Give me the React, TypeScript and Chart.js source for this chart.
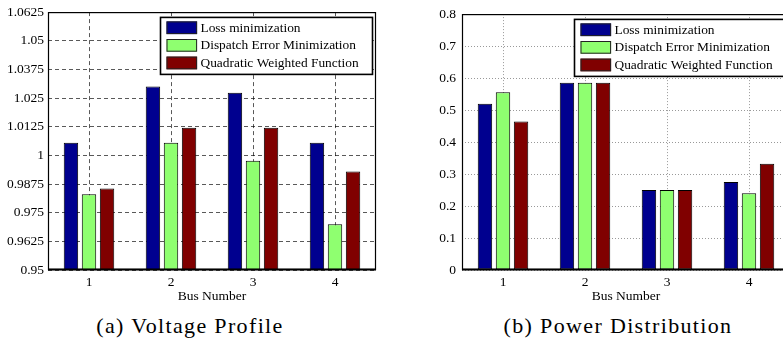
import React, { useEffect, useRef } from 'react';
import { Chart, registerables } from 'chart.js';

Chart.register(...registerables);

// ---------- data ----------
const busNumbers = ['1', '2', '3', '4'];
const seriesNames = ['Loss minimization', 'Dispatch Error Minimization', 'Quadratic Weighted Function'];
const seriesColors = ['#00008f', '#8fff70', '#800000'];

const voltageLoss = [1.0055, 1.030, 1.0273, 1.0055];
const voltageDispatch = [0.983, 1.0055, 0.9977, 0.970];
const voltageQuadratic = [0.9855, 1.012, 1.012, 0.993];
const voltageTicks = [0.95, 0.9625, 0.975, 0.9875, 1, 1.0125, 1.025, 1.0375, 1.05, 1.0625];

const powerLoss = [0.52, 0.585, 0.25, 0.275];
const powerDispatch = [0.556, 0.585, 0.25, 0.24];
const powerQuadratic = [0.464, 0.585, 0.25, 0.332];
const powerTicks = [0, 0.1, 0.2, 0.3, 0.4, 0.5, 0.6, 0.7, 0.8];

const xTitle = 'Bus Number';
const captionA = '(a) Voltage Profile';
const captionB = '(b) Power Distribution';

const FONT = '"Liberation Serif", "Times New Roman", Tinos, "DejaVu Serif"';

const framePlusLegend = {
  id: 'framePlusLegend',
  afterDraw(chart: any) {
    const { ctx, chartArea } = chart;
    const { left, top, right, bottom } = chartArea;
    ctx.save();
    // axes frame
    ctx.strokeStyle = '#000';
    ctx.lineWidth = 1.2;
    ctx.strokeRect(left + 0.5, top + 0.5, right - left - 1, bottom - top - 1);
    ctx.lineWidth = 2;
    ctx.beginPath();
    ctx.moveTo(left, bottom - 0.5);
    ctx.lineTo(right, bottom - 0.5);
    ctx.stroke();
    // legend box
    const w = 212;
    const h = 57;
    const x = right - 3.5 - w;
    const y = top + 5.3;
    ctx.fillStyle = '#fff';
    ctx.fillRect(x, y, w, h);
    ctx.lineWidth = 1.6;
    ctx.strokeStyle = '#000';
    ctx.strokeRect(x, y, w, h);
    ctx.font = '13.4px ' + FONT;
    ctx.textBaseline = 'middle';
    ctx.textAlign = 'left';
    chart.data.datasets.forEach((ds: any, i: number) => {
      const cy = y + 10.3 + i * 17.6;
      ctx.fillStyle = ds.backgroundColor;
      ctx.fillRect(x + 6, cy - 6.3, 30.6, 12.7);
      ctx.lineWidth = 1;
      ctx.strokeStyle = '#222';
      ctx.strokeRect(x + 6.5, cy - 5.8, 29.6, 11.7);
      ctx.fillStyle = '#000';
      ctx.fillText(ds.label, x + 40, cy + 0.5);
    });
    ctx.restore();
  },
};

function makeConfig(
  series: number[][],
  ticks: number[],
  gridColor: string,
  gridDash: number[],
  yPad: number
): any {
  return {
    type: 'bar',
    data: {
      labels: busNumbers,
      datasets: series.map((d, i) => ({
        label: seriesNames[i],
        data: d,
        backgroundColor: seriesColors[i],
        borderColor: '#000',
        borderWidth: 1,
        borderSkipped: false,
        categoryPercentage: 0.66,
        barPercentage: 0.8,
      })),
    },
    options: {
      responsive: false,
      animation: false,
      devicePixelRatio: 1,
      layout: { padding: { left: 0, top: 12, right: 14, bottom: 0 } },
      plugins: { legend: { display: false }, tooltip: { enabled: false } },
      scales: {
        x: {
          offset: true,
          grid: { offset: false, color: gridColor, drawTicks: false, lineWidth: 1 },
          border: { display: false, dash: gridDash },
          ticks: { color: '#000', padding: 4, font: { family: FONT, size: 13.5 } },
          title: {
            display: true,
            text: xTitle,
            color: '#000',
            padding: { top: 0, bottom: 0 },
            font: { family: FONT, size: 13.5 },
          },
          afterFit: (s: any) => {
            s.height = 35;
          },
        },
        y: {
          min: ticks[0],
          max: ticks[ticks.length - 1],
          grid: { color: gridColor, drawTicks: false, lineWidth: 1 },
          border: { display: false, dash: gridDash },
          ticks: {
            color: '#000',
            padding: yPad,
            font: { family: FONT, size: 13.5 },
            callback: (v: any) => String(v),
          },
          afterBuildTicks: (s: any) => {
            s.ticks = ticks.map((v) => ({ value: v }));
          },
          afterFit: (s: any) => {
            s.width = 48;
          },
        },
      },
    },
    plugins: [framePlusLegend],
  };
}

export default function App() {
  const leftRef = useRef<HTMLCanvasElement>(null);
  const rightRef = useRef<HTMLCanvasElement>(null);

  useEffect(() => {
    const c1 = new Chart(
      leftRef.current as HTMLCanvasElement,
      makeConfig([voltageLoss, voltageDispatch, voltageQuadratic], voltageTicks, 'rgba(0,0,0,0.65)', [4, 3], 4)
    );
    const c2 = new Chart(
      rightRef.current as HTMLCanvasElement,
      makeConfig([powerLoss, powerDispatch, powerQuadratic], powerTicks, 'rgba(0,0,0,0.4)', [1, 2], 6)
    );
    return () => {
      c1.destroy();
      c2.destroy();
    };
  }, []);

  const captionStyle: React.CSSProperties = {
    position: 'absolute',
    top: 314.5,
    transform: 'translateX(-50%)',
    whiteSpace: 'nowrap',
    fontFamily: FONT,
    fontSize: 22,
    lineHeight: '22px',
    letterSpacing: '1.35px',
    color: '#000',
  };

  return (
    <div
      style={{
        position: 'fixed',
        left: 0,
        top: 0,
        width: 783,
        height: 342,
        overflow: 'hidden',
        background: '#fff',
      }}
    >
      <canvas
        ref={leftRef}
        width={390}
        height={305}
        style={{ position: 'absolute', left: 0, top: 0, width: 390, height: 305 }}
      />
      <canvas
        ref={rightRef}
        width={390}
        height={305}
        style={{ position: 'absolute', left: 414, top: 0, width: 390, height: 305 }}
      />
      <div style={{ ...captionStyle, left: 190 }}>{captionA}</div>
      <div style={{ ...captionStyle, left: 618 }}>{captionB}</div>
    </div>
  );
}
